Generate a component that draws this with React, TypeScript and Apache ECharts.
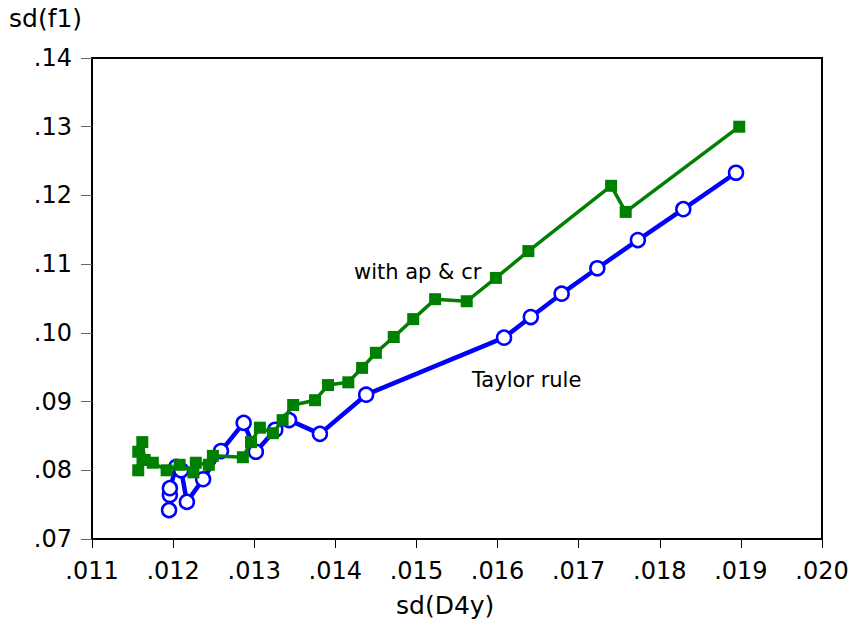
import React, { useEffect, useRef } from "react";
import * as echarts from "echarts";

const xTicks = [0.011, 0.012, 0.013, 0.014, 0.015, 0.016, 0.017, 0.018, 0.019, 0.02];

const taylorX = [0.01195, 0.01196, 0.01196, 0.01204, 0.0121, 0.01217, 0.01237, 0.01259, 0.01287, 0.01302, 0.01326, 0.01343, 0.01381, 0.01438, 0.01608, 0.01641, 0.01679, 0.01723, 0.01773, 0.01829, 0.01894];
const taylorY = [0.0742, 0.0764, 0.0774, 0.0805, 0.08, 0.0754, 0.0787, 0.0828, 0.0869, 0.0827, 0.0859, 0.0873, 0.0853, 0.091, 0.0993, 0.1023, 0.1057, 0.1094, 0.1135, 0.118, 0.1233];

const apcrX = [0.01157, 0.01157, 0.01162, 0.01165, 0.01175, 0.01192, 0.01208, 0.01225, 0.01228, 0.01244, 0.01249, 0.01286, 0.01296, 0.01307, 0.01323, 0.01335, 0.01348, 0.01375, 0.01391, 0.01416, 0.01433, 0.0145, 0.01472, 0.01496, 0.01523, 0.01562, 0.01598, 0.01638, 0.0174, 0.01758, 0.01898];
const apcrY = [0.08, 0.0827, 0.0841, 0.0815, 0.0811, 0.08, 0.0808, 0.0797, 0.0811, 0.0808, 0.0821, 0.0819, 0.0841, 0.0862, 0.0854, 0.0873, 0.0895, 0.0902, 0.0924, 0.0928, 0.0949, 0.0971, 0.0994, 0.102, 0.1049, 0.1046, 0.108, 0.1119, 0.1214, 0.1176, 0.13];

const seriesLabels = ["Taylor rule", "with ap & cr"];
const xTitle = "sd(D4y)";
const yTitle = "sd(f1)";

const fmt = (v: number) => v.toFixed(3).replace(/^0/, "");
const fmt2 = (v: number) => v.toFixed(2).replace(/^0/, "");

export default function App() {
  const ref = useRef<HTMLDivElement>(null);
  useEffect(() => {
    if (!ref.current) return;
    const chart = echarts.init(ref.current, undefined, { renderer: "svg" });
    const font = "'DejaVu Sans', sans-serif";
    chart.setOption({
      animation: false,
      backgroundColor: "#ffffff",
      grid: {
        left: 92,
        top: 58,
        width: 730,
        height: 481,
        show: true,
        borderColor: "#000",
        borderWidth: 2,
        backgroundColor: "transparent",
      },
      xAxis: {
        type: "value",
        min: 0.011,
        max: 0.02,
        interval: 0.001,
        axisLine: { show: true, lineStyle: { color: "#000", width: 2 } },
        axisTick: { show: true, inside: false, length: 9, lineStyle: { color: "#000", width: 1 } },
        splitLine: { show: false },
        axisLabel: { fontSize: 24, color: "#000", fontFamily: font, margin: 20, formatter: fmt },
      },
      yAxis: {
        type: "value",
        min: 0.07,
        max: 0.14,
        interval: 0.01,
        axisLine: { show: true, lineStyle: { color: "#000", width: 2 } },
        axisTick: { show: true, inside: false, length: 11, lineStyle: { color: "#666", width: 1 } },
        splitLine: { show: false },
        axisLabel: { fontSize: 24, color: "#000", fontFamily: font, margin: 20, formatter: fmt2 },
      },
      series: [
        {
          name: seriesLabels[0],
          type: "line",
          data: taylorX.map((x, i) => [x, taylorY[i]]),
          lineStyle: { color: "#0000ff", width: 4.5 },
          symbol: "circle",
          symbolSize: 14,
          itemStyle: { color: "#ffffff", borderColor: "#0000ff", borderWidth: 2.5 },
          z: 2,
        },
        {
          name: seriesLabels[1],
          type: "line",
          data: apcrX.map((x, i) => [x, apcrY[i]]),
          lineStyle: { color: "#008000", width: 3.5 },
          symbol: "rect",
          symbolSize: 12,
          itemStyle: { color: "#008000" },
          z: 3,
        },
      ],
      graphic: [
        { type: "text", left: 9, top: 6, style: { text: yTitle, fontSize: 25, fill: "#000", fontFamily: font } },
        { type: "text", left: 396, top: 593, style: { text: xTitle, fontSize: 25, fill: "#000", fontFamily: font } },
        { type: "text", left: 354, top: 261, style: { text: seriesLabels[1], fontSize: 21, fill: "#000", fontFamily: font } },
        { type: "text", left: 472, top: 369, style: { text: seriesLabels[0], fontSize: 21, fill: "#000", fontFamily: font } },
      ],
    });
    return () => chart.dispose();
  }, []);
  return <div ref={ref} style={{ position: "fixed", left: 0, top: 0, width: 854, height: 626 }} />;
}
